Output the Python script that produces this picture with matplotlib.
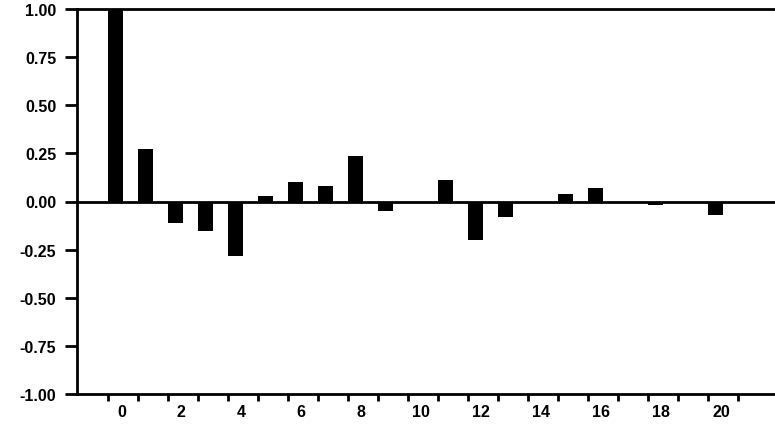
#!/usr/bin/env python
import numpy as np
import matplotlib.pyplot as plt

# Autocorrelacao por defasagem
lags = list(range(22))
acf = [1.00, 0.275, -0.11, -0.155, -0.285, 0.03, 0.10, 0.083, 0.234, -0.05,
       0.0, 0.11, -0.20, -0.08, 0.0, 0.037, 0.068, 0.0, -0.02, 0.0, -0.07, 0.0]
ytick_vals = [1.00, 0.75, 0.50, 0.25, 0.00, -0.25, -0.50, -0.75, -1.00]
xlabel_pos = [0, 2, 4, 6, 8, 10, 12, 14, 16, 18, 20]


def grafico_acf():
    plt.rcParams['font.family'] = ['Liberation Sans', 'DejaVu Sans']
    fig = plt.figure(figsize=(7.75, 4.27), dpi=100)
    # eixo passa da borda direita, como na figura original
    ax = fig.add_axes([77 / 775, 32 / 427, 740 / 775, 385 / 427])
    ax.bar(lags, acf, width=0.5, color='black')
    ax.axhline(0, color='black', lw=2)
    ax.set_ylim(-1, 1)
    ax.set_xlim(-1.28, 23.4)
    ax.set_yticks(ytick_vals)
    ax.set_yticklabels([f"{v:.2f}" for v in ytick_vals], fontsize=11.5, fontweight='bold')
    ax.set_xticks(np.array(lags) - 0.25)
    ax.set_xticklabels([])
    ax.set_xticks(np.array(xlabel_pos) + 0.2, minor=True)
    ax.set_xticklabels([str(v) for v in xlabel_pos], minor=True, fontsize=11.5, fontweight='bold')
    ax.tick_params(axis='x', which='minor', length=0, pad=7)
    ax.tick_params(axis='x', which='major', length=5, width=2, direction='out')
    ax.tick_params(axis='y', length=9, width=2, direction='out', pad=6)
    for s in ax.spines.values():
        s.set_linewidth(2)
    fig.savefig('out.png', dpi=100)


def main():
    grafico_acf()


if __name__ == "__main__":
    main()
